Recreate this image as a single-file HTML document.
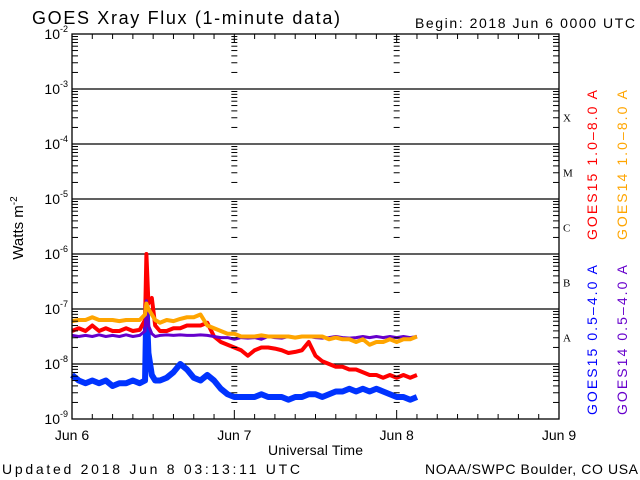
<!DOCTYPE html>
<html><head><meta charset="utf-8"><style>
body{margin:0;background:#fff}
svg{display:block;font-family:"Liberation Sans",sans-serif}
</style></head><body>
<svg id="c" width="640" height="480">
<rect width="640" height="480" fill="#fff"/>
<text x="32" y="24" font-size="18" textLength="308" lengthAdjust="spacing">GOES Xray Flux (1-minute data)</text>
<text x="415" y="28" font-size="14" textLength="220" lengthAdjust="spacing">Begin:  2018 Jun 6 0000 UTC</text>
<text x="268" y="455" font-size="14" textLength="95" lengthAdjust="spacing">Universal Time</text>
<text x="2" y="474" font-size="14" textLength="298" lengthAdjust="spacing">Updated 2018 Jun  8 03:13:11 UTC</text>
<text x="425" y="474" font-size="14" textLength="213" lengthAdjust="spacing">NOAA/SWPC Boulder, CO USA</text>
<text transform="translate(23,228) rotate(-90)" font-size="15" text-anchor="middle">Watts m<tspan dy="-6" font-size="10">-2</tspan></text>
<g id="grid"></g><g id="series"></g><g id="axes"></g>
<text transform="translate(597,240) rotate(-90)" font-size="14" fill="#ff0000" textLength="150" lengthAdjust="spacing">GOES15 1.0–8.0 A</text>
<text transform="translate(627,240) rotate(-90)" font-size="14" fill="#ffa500" textLength="150" lengthAdjust="spacing">GOES14 1.0–8.0 A</text>
<text transform="translate(597,415) rotate(-90)" font-size="14" fill="#0000ff" textLength="150" lengthAdjust="spacing">GOES15 0.5–4.0 A</text>
<text transform="translate(627,415) rotate(-90)" font-size="14" fill="#6600cc" textLength="150" lengthAdjust="spacing">GOES14 0.5–4.0 A</text>
</svg>
<script>
const hours=[0,1,2,3,4,5,6,7,8,9,10,10.8,11.0,11.3,11.8,12.3,13,14,15,16,17,18,19,20,21,22,23,24,25,26,27,28,29,30,31,32,33,34,35,36,37,38,39,40,41,42,43,44,45,46,47,48,49,50,51];
const red=[-7.4,-7.35,-7.4,-7.3,-7.4,-7.35,-7.4,-7.4,-7.35,-7.4,-7.38,-7.2,-6.0,-6.9,-6.8,-7.3,-7.4,-7.4,-7.35,-7.35,-7.3,-7.3,-7.3,-7.25,-7.5,-7.6,-7.65,-7.7,-7.75,-7.85,-7.75,-7.7,-7.7,-7.72,-7.75,-7.8,-7.78,-7.75,-7.6,-7.85,-7.95,-8.0,-8.05,-8.05,-8.1,-8.1,-8.15,-8.2,-8.2,-8.25,-8.2,-8.25,-8.2,-8.25,-8.2];
const orange=[-7.22,-7.2,-7.2,-7.15,-7.2,-7.2,-7.2,-7.22,-7.2,-7.2,-7.2,-7.1,-6.9,-7.0,-7.1,-7.2,-7.25,-7.2,-7.22,-7.18,-7.15,-7.15,-7.1,-7.3,-7.35,-7.4,-7.45,-7.45,-7.5,-7.5,-7.5,-7.48,-7.5,-7.5,-7.5,-7.5,-7.52,-7.5,-7.5,-7.5,-7.5,-7.55,-7.52,-7.55,-7.55,-7.6,-7.55,-7.65,-7.6,-7.6,-7.55,-7.6,-7.55,-7.55,-7.5];
const purple=[-7.48,-7.5,-7.48,-7.5,-7.47,-7.5,-7.48,-7.5,-7.47,-7.5,-7.48,-7.4,-6.85,-7.3,-7.45,-7.5,-7.48,-7.47,-7.48,-7.47,-7.48,-7.48,-7.47,-7.48,-7.5,-7.52,-7.52,-7.55,-7.52,-7.53,-7.52,-7.55,-7.5,-7.52,-7.53,-7.5,-7.52,-7.5,-7.5,-7.52,-7.53,-7.52,-7.5,-7.52,-7.53,-7.52,-7.5,-7.52,-7.5,-7.52,-7.5,-7.52,-7.5,-7.52,-7.5];
const blue=[-8.2,-8.3,-8.35,-8.3,-8.35,-8.3,-8.4,-8.35,-8.35,-8.3,-8.35,-8.3,-6.9,-7.8,-8.2,-8.3,-8.3,-8.25,-8.15,-8.0,-8.1,-8.25,-8.3,-8.2,-8.3,-8.45,-8.55,-8.6,-8.6,-8.6,-8.6,-8.55,-8.6,-8.6,-8.6,-8.65,-8.6,-8.6,-8.55,-8.55,-8.6,-8.55,-8.5,-8.5,-8.45,-8.5,-8.45,-8.5,-8.45,-8.5,-8.55,-8.6,-8.6,-8.65,-8.6];
const dayLabels=["Jun 6","Jun 7","Jun 8","Jun 9"];
const decades=[-9,-8,-7,-6,-5,-4,-3,-2];
const classLetters=["A","B","C","M","X"];
const X0=72,X1=559,Y0=419,Y1=34;
const xs=h=>X0+h/72*(X1-X0);
const ys=l=>Y0-(l+9)/7*(Y0-Y1);
const NS="http://www.w3.org/2000/svg";
function mk(tag,attrs,parent){const e=document.createElementNS(NS,tag);for(const k in attrs)e.setAttribute(k,attrs[k]);parent.appendChild(e);return e;}
const grid=document.getElementById('grid'),axes=document.getElementById('axes'),ser=document.getElementById('series');
decades.forEach((d,i)=>{
  const y=ys(d);
  if(d>-9&&d<-2){const l=mk('line',{x1:X0,x2:X1,y1:y,y2:y,stroke:'#000','stroke-width':1.3},grid);
  
  }
  const t=mk('text',{x:X0-4,y:y+5,'font-size':14,'text-anchor':'end'},axes);
  
  
  t.textContent='10';const s=mk('tspan',{dy:-7,'font-size':9},t);s.textContent=String(d);
  if(i<7){for(let m=2;m<=10;m++){const yy=ys(d+Math.log10(m));
    [X0,xs(24),xs(48)].forEach((xx,j)=>{mk('line',{x1:j?xx-3:xx,x2:xx+(m==10?0:(j?3:6)),y1:yy,y2:yy,stroke:'#000','stroke-width':1},axes);});
    mk('line',{x1:X1-6,x2:X1,y1:yy,y2:yy,stroke:'#000','stroke-width':1},axes);}}
});
classLetters.forEach((c,i)=>{const t=mk('text',{x:563,y:ys(-8+i+0.5)+5,'font-size':11,'font-family':'Liberation Serif'},axes);
  
  
  t.textContent=c;});
for(let h=0;h<=72;h+=3){const x=xs(h);const len=h%24?5:9;
  mk('line',{x1:x,x2:x,y1:Y1,y2:Y1+len,stroke:'#000'},axes);mk('line',{x1:x,x2:x,y1:Y0,y2:Y0-len,stroke:'#000'},axes);}
dayLabels.forEach((d,i)=>{const t=mk('text',{x:xs(i*24),y:440,'font-size':14,'text-anchor':'middle'},axes);
  
  
  t.textContent=d;});
const frame=mk('rect',{x:X0,y:Y1,width:X1-X0,height:Y0-Y1,fill:'none',stroke:'#000','stroke-width':1.3},axes);


function series(vals,color,w,name){const p=mk('polyline',{points:hours.map((h,i)=>xs(h)+','+ys(vals[i])).join(' '),fill:'none',stroke:color,'stroke-width':w,'stroke-linejoin':'round'},ser);
  
  }
series(blue,'#0033ff',6,'series-goes15-short');
series(red,'#ff0000',4,'series-goes15-long');
series(purple,'#6600cc',3,'series-goes14-short');
series(orange,'#ffa500',4,'series-goes14-long');
</script>
</body></html>
